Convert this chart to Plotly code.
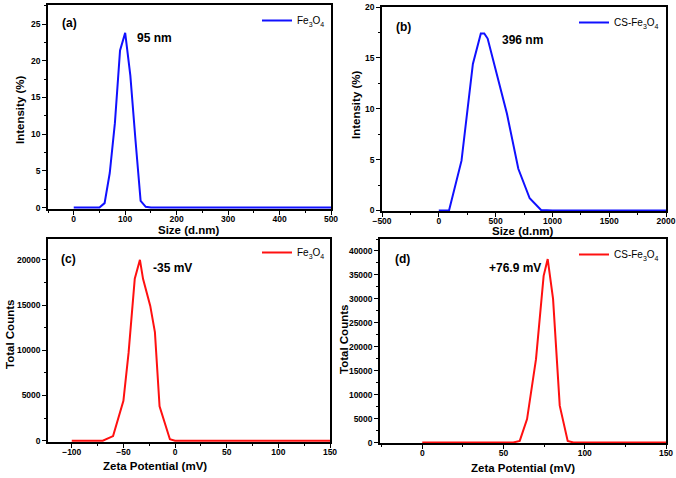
import plotly.graph_objects as go

W, H = 676, 478

# (a) DLS size Fe3O4
a_size = [0, 50, 60, 70, 80, 90, 100, 110, 120, 130, 140, 150, 500]
a_int = [0, 0, 0.6, 4.7, 11.5, 21.4, 23.8, 18, 9.2, 0.9, 0.1, 0, 0]
# (b) DLS size CS-Fe3O4
b_size = [0, 90, 200, 300, 370, 400, 430, 500, 600, 700, 800, 900, 1000, 2000]
b_int = [0, 0, 4.9, 14.4, 17.4, 17.4, 16.9, 13.8, 9.5, 4.1, 1.2, 0.05, 0, 0]
# (c) Zeta Fe3O4
c_zeta = [-100, -70, -60, -50, -45, -39, -34, -31, -24, -19.5, -15, -5, 0, 150]
c_cnt = [0, 0, 500, 4400, 9700, 17900, 20000, 17900, 14900, 12000, 3800, 150, 0, 0]
# (d) Zeta CS-Fe3O4
d_zeta = [0, 56, 60, 64.5, 70, 74.7, 77.2, 80.5, 84.6, 89.5, 93, 150]
d_cnt = [0, 0, 350, 4900, 17400, 34800, 38300, 30000, 7700, 350, 0, 0]

BLUE = "#1010ff"
RED = "#ff1010"
FONT = "Liberation Sans, Arial, sans-serif"

def px_dom_x(l, r):
    return [l / W, r / W]

def px_dom_y(t, b):
    return [1 - b / H, 1 - t / H]

fig = go.Figure()
fig.add_trace(go.Scatter(x=a_size, y=a_int, mode="lines", line=dict(color=BLUE, width=2),
                         name="Fe<sub>3</sub>O<sub>4</sub>", xaxis="x", yaxis="y", legend="legend"))
fig.add_trace(go.Scatter(x=b_size, y=b_int, mode="lines", line=dict(color=BLUE, width=2),
                         name="CS-Fe<sub>3</sub>O<sub>4</sub>", xaxis="x2", yaxis="y2", legend="legend2"))
fig.add_trace(go.Scatter(x=c_zeta, y=c_cnt, mode="lines", line=dict(color=RED, width=2),
                         name="Fe<sub>3</sub>O<sub>4</sub>", xaxis="x3", yaxis="y3", legend="legend3"))
fig.add_trace(go.Scatter(x=d_zeta, y=d_cnt, mode="lines", line=dict(color=RED, width=2),
                         name="CS-Fe<sub>3</sub>O<sub>4</sub>", xaxis="x4", yaxis="y4", legend="legend4"))

def ax(dom, rng, dtick, mdtick, anchor, lblstand, tick0=0):
    return dict(domain=dom, range=rng, dtick=dtick, tick0=tick0, anchor=anchor,
                showgrid=False, zeroline=False, showline=True, linecolor="black", linewidth=1.5,
                mirror=True, ticks="outside", ticklen=4, tickwidth=1, tickcolor="black",
                tickformat="d", ticklabeloverflow="allow", ticklabelstandoff=lblstand,
                tickfont=dict(family=FONT, size=8.5, color="black", weight="bold"),
                minor=dict(ticks="outside", ticklen=2, dtick=mdtick, tickcolor="black", showgrid=False),
                automargin=False)

layout = dict(
    width=W, height=H, margin=dict(l=0, r=0, t=0, b=0),
    paper_bgcolor="white", plot_bgcolor="white", showlegend=True,
    xaxis=ax(px_dom_x(48, 331), [-50, 500], 100, 50, "y", -3),
    yaxis=ax(px_dom_y(5, 209), [-0.2, 27.6], 5, 2.5, "x", 0),
    xaxis2=ax(px_dom_x(382, 666), [-500, 2000], 500, 250, "y2", -3),
    yaxis2=ax(px_dom_y(7, 211), [-0.05, 20], 5, 2.5, "x2", 0),
    xaxis3=ax(px_dom_x(48, 330), [-123, 150], 50, 25, "y3", -3),
    yaxis3=ax(px_dom_y(239, 442), [-150, 22300], 5000, 2500, "x3", 0),
    xaxis4=ax(px_dom_x(380, 666), [-26, 150], 50, 25, "y4", -3),
    yaxis4=ax(px_dom_y(239, 443), [-100, 42500], 5000, 2500, "x4", 0),
)

def leg(xr, yt):
    return dict(x=xr / W, y=1 - yt / H, xanchor="right", yanchor="top", bgcolor="rgba(0,0,0,0)",
                font=dict(family=FONT, size=10, color="black"), itemwidth=30,
                tracegroupgap=0)

layout["legend"] = leg(330, 6)
layout["legend2"] = leg(664, 8)
layout["legend3"] = leg(330, 238)
layout["legend4"] = leg(664, 240)

ann = []
def txt(x, y, s, size, anchor="left", angle=0):
    ann.append(dict(x=x / W, y=1 - y / H, xref="paper", yref="paper", text=s, showarrow=False,
                    xanchor=anchor, yanchor="middle", textangle=angle,
                    font=dict(family=FONT, size=size, color="black", weight="bold")))

# panel labels and values
txt(60, 23, "(a)", 12)
txt(135, 38, "95 nm", 12)
txt(394, 27, "(b)", 12)
txt(500, 40, "396 nm", 12)
txt(59, 259, "(c)", 12)
txt(151, 268, "-35 mV", 12)
txt(393, 259, "(d)", 12)
txt(487, 268, "+76.9 mV", 12)
# axis titles
txt(189, 230.5, "Size (d.nm)", 11.5, "center")
txt(523, 231, "Size (d.nm)", 11.5, "center")
txt(155, 466, "Zeta Potential (mV)", 11.5, "center")
txt(523, 468, "Zeta Potential (mV)", 11.5, "center")
txt(20, 110, "Intensity (%)", 11.5, "center", -90)
txt(356, 105, "Intensity (%)", 11.5, "center", -90)
txt(10, 335, "Total Counts", 11.5, "center", -90)
txt(344, 340, "Total Counts", 11.5, "center", -90)
layout["annotations"] = ann

fig.update_layout(**layout)
fig.write_html("out.html", config={"displayModeBar": False},
               post_script="document.body.style.margin='0';document.body.style.overflow='hidden';")
